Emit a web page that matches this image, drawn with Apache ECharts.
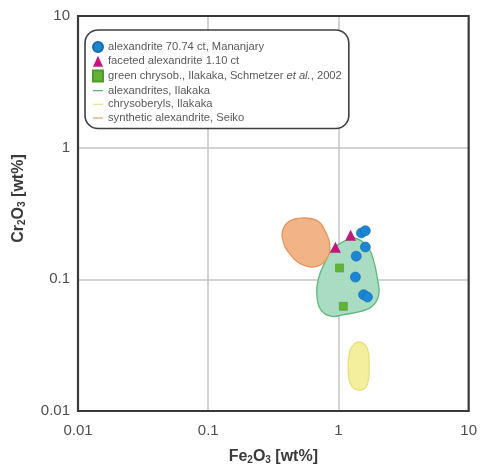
<!DOCTYPE html>
<html><head><meta charset="utf-8">
<script src="https://cdn.jsdelivr.net/npm/echarts@6/dist/echarts.min.js"></script>
<style>html,body{margin:0;padding:0;background:#fff}#c{width:480px;height:470px}</style>
</head><body><div id="c"></div>
<script>
// tick values
const axisTicks = [0.01, 0.1, 1, 10];

// point series (Fe2O3 wt%, Cr2O3 wt%)
const alexMananjaryFe = [1.50, 1.61, 1.61, 1.37, 1.35, 1.56, 1.67];
const alexMananjaryCr = [0.225, 0.234, 0.176, 0.150, 0.104, 0.0764, 0.0734];
const facetedFe = [1.24, 0.948];
const facetedCr = [0.216, 0.175];
const greenChrysFe = [1.02, 1.09];
const greenChrysCr = [0.122, 0.0624];

// field outlines (Fe2O3 wt%, Cr2O3 wt%)
const ilakakaAlexFe = [1.31, 1.52, 1.71, 1.87, 1.99, 2.04, 1.82, 1.48, 1.10, 0.894, 0.749, 0.686, 0.705, 0.794, 0.894, 1.10];
const ilakakaAlexCr = [0.206, 0.194, 0.173, 0.137, 0.102, 0.0764, 0.0624, 0.0571, 0.0539, 0.0523, 0.0571, 0.0721, 0.102, 0.137, 0.168, 0.194];
const chrysoberylFe = [1.48, 1.66, 1.72, 1.68, 1.52, 1.27, 1.19, 1.22, 1.33];
const chrysoberylCr = [0.0333, 0.0301, 0.0225, 0.0163, 0.0145, 0.0154, 0.0200, 0.0284, 0.0324];
const seikoFe = [0.511, 0.686, 0.794, 0.857, 0.818, 0.686, 0.541, 0.427, 0.373, 0.379, 0.427];
const seikoCr = [0.292, 0.279, 0.231, 0.183, 0.145, 0.1256, 0.128, 0.154, 0.200, 0.245, 0.279];

const names = [
  'alexandrite 70.74 ct, Mananjary',
  'faceted alexandrite 1.10 ct',
  'green chrysob., Ilakaka, Schmetzer et al., 2002',
  'alexandrites, Ilakaka',
  'chrysoberyls, Ilakaka',
  'synthetic alexandrite, Seiko'
];

function pairs(a, b) { return a.map((v, i) => [v, b[i]]); }

function regionSeries(name, fe, cr, fill, stroke) {
  return {
    type: 'custom', name: name, data: pairs(fe, cr), z: 1,
    itemStyle: { color: stroke },
    encode: { x: 0, y: 1 },
    renderItem: function (params, api) {
      if (params.dataIndex !== 0) return null;
      const pts = fe.map((v, i) => api.coord([v, cr[i]]));
      return { type: 'polygon', shape: { points: pts, smooth: 0.45 },
        style: { fill: fill, stroke: stroke, lineWidth: 1.3 } };
    }
  };
}

const lineIcon = 'path://M0,0 M0,4.3 L12,4.3 L12,5.8 L0,5.8 Z M12,10';
const FONT = 'Liberation Sans, Arial, sans-serif';
const subStyle = { fontFamily: FONT, fontSize: 10, fontWeight: 'bold', color: '#3a3a3a', verticalAlign: 'bottom', padding: [7, 0, 0, 0] };
const bigStyle = { fontFamily: FONT, fontSize: 16, fontWeight: 'bold', color: '#3a3a3a' };

const chart = echarts.init(document.getElementById('c'), null, { renderer: 'canvas' });
chart.setOption({
  animation: false,
  backgroundColor: '#fff',
  grid: { left: 78, top: 16, right: 11, bottom: 57, show: true, borderColor: '#3a3a3a', borderWidth: 2.2, backgroundColor: 'transparent', z: 3 },
  legend: {
    orient: 'vertical', left: 85, top: 30,
    padding: [11, 7, 5, 7], itemGap: 2.7, itemWidth: 10, itemHeight: 11,
    borderColor: '#3f3f3f', borderWidth: 1.6, borderRadius: 13, backgroundColor: '#fff',
    textStyle: { fontFamily: FONT, fontSize: 11.2, color: '#5a5a5a',
      rich: { i: { fontStyle: 'italic', fontFamily: FONT, fontSize: 11.2, color: '#5a5a5a' } } },
    formatter: function (n) { return n.replace('et al.', '{i|et al.}'); },
    data: [
      { name: names[0], icon: 'circle' },
      { name: names[1], icon: 'triangle' },
      { name: names[2], icon: 'rect' },
      { name: names[3], icon: lineIcon, itemStyle: { color: '#5cb879' } },
      { name: names[4], icon: lineIcon, itemStyle: { color: '#ece784' } },
      { name: names[5], icon: lineIcon, itemStyle: { color: '#eba06a' } }
    ],
    z: 10
  },
  xAxis: {
    type: 'log', logBase: 10, min: axisTicks[0], max: axisTicks[axisTicks.length - 1],
    name: '{b|Fe}{s|2}{b|O}{s|3}{b| [wt%]}', nameLocation: 'middle', nameGap: 37,
    nameTextStyle: { fontFamily: FONT, fontWeight: 'bold', fontSize: 16, color: '#3a3a3a', rich: { s: subStyle, b: bigStyle } },
    axisLine: { show: false }, axisTick: { show: false },
    axisLabel: { fontFamily: FONT, fontSize: 15, color: '#4e4e4e', margin: 12,
      formatter: function (v) { return String(v); } },
    splitLine: { show: true, showMinLine: false, showMaxLine: false, lineStyle: { color: '#c4c4c4', width: 1.5 } },
    minorSplitLine: { show: false }
  },
  yAxis: {
    type: 'log', logBase: 10, min: axisTicks[0], max: axisTicks[axisTicks.length - 1],
    name: '{b|Cr}{s|2}{b|O}{s|3}{b| [wt%]}', nameLocation: 'middle', nameGap: 51,
    nameTextStyle: { fontFamily: FONT, fontWeight: 'bold', fontSize: 16, color: '#3a3a3a', padding: [0, 0, 0, 30], rich: { s: subStyle, b: bigStyle } },
    axisLine: { show: false }, axisTick: { show: false },
    axisLabel: { fontFamily: FONT, fontSize: 15, color: '#4e4e4e', margin: 8,
      formatter: function (v) { return String(v); } },
    splitLine: { show: true, showMinLine: false, showMaxLine: false, lineStyle: { color: '#c4c4c4', width: 1.5 } }
  },
  series: [
    regionSeries(names[3], ilakakaAlexFe, ilakakaAlexCr, '#a9dcc3', '#5cb879'),
    regionSeries(names[4], chrysoberylFe, chrysoberylCr, '#f3ef9c', '#e6e07a'),
    regionSeries(names[5], seikoFe, seikoCr, '#f2b487', '#e5965e'),
    { type: 'scatter', name: names[0], data: pairs(alexMananjaryFe, alexMananjaryCr), symbol: 'circle', symbolSize: 10, z: 5,
      itemStyle: { color: '#1b86d2', borderColor: '#1668ad', borderWidth: 0.6, opacity: 1 } },
    { type: 'scatter', name: names[1], data: pairs(facetedFe, facetedCr), symbol: 'triangle', symbolSize: 11, z: 5,
      itemStyle: { color: '#c41779', opacity: 1 } },
    { type: 'scatter', name: names[2], data: pairs(greenChrysFe, greenChrysCr), symbol: 'rect', symbolSize: 8, z: 5,
      itemStyle: { color: '#62b235', borderColor: '#4f9a2a', borderWidth: 0.6, opacity: 1 } }
  ]
});
</script>
</body></html>
